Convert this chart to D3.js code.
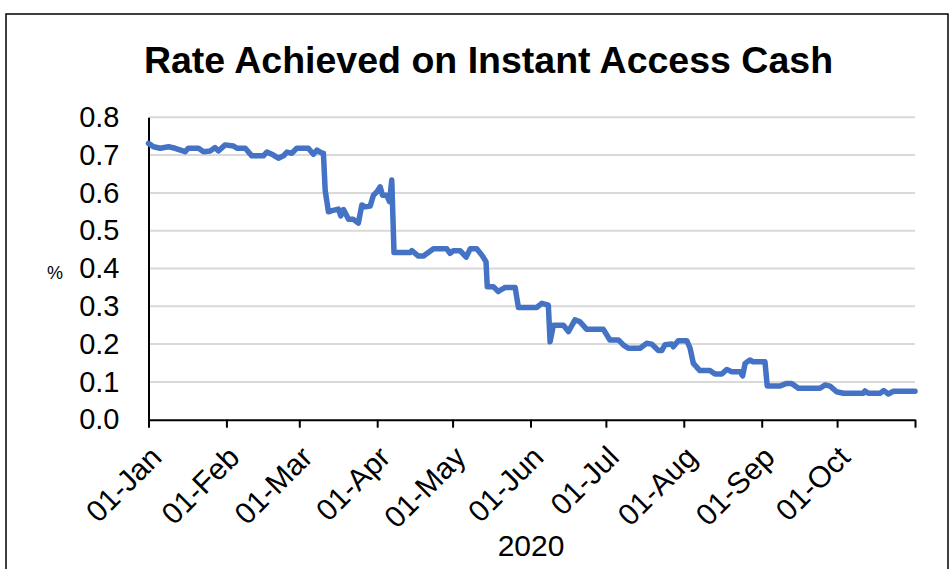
<!DOCTYPE html>
<html lang="en">

<head>
    <meta charset="UTF-8" />
    <title>Rate Achieved on Instant Access Cash</title>
    <script src="https://d3js.org/d3.v7.min.js"></script>
    <style>
        body { margin: 0; background: #fff; }
        text { font-family: "Liberation Sans", Arial, sans-serif; fill: #000; }
    </style>
</head>

<body>
    <div id="chart"></div>

    <script>
        var w = 952;
        var h = 569;

        // days after 01-Jan-2020
        var dayOffsets = [0, 2, 4.7, 8, 10.6, 14.6, 15.8, 19.9, 21.9, 24.5, 26.5, 27.8, 30.5, 33.8, 35.2, 38.5,
            41.1, 45.7, 47.1, 49.7, 51.7, 53.7, 55.1, 57, 59, 63.6, 65.6, 67, 69, 69.6, 70.3, 71.6,
            73, 75.6, 76.5, 77.6, 79.6, 81.5, 83.5, 84.9, 86.2, 88.2, 89.5, 90.9, 92.2, 93.1, 94.8, 95.9,
            96.8, 97.7, 104.1, 104.8, 107.4, 109.4, 113.4, 118.7, 120, 121.3, 124, 126.4, 128, 130.6,
            132.6, 134.3, 134.8, 137.2, 139.2, 140.6, 141.9, 145.9, 146.5, 147.2, 154.5, 156.5, 159.1,
            159.8, 161.1, 165.1, 167.1, 169.7, 171.7, 174.4, 181, 183.6, 187, 188.9, 190.9, 195.6,
            198.2, 200.2, 202.9, 204.2, 205.5, 208.2, 208.8, 210.8, 214.2, 215.5, 216.8, 219.4, 223.4,
            225.4, 228.1, 230.1, 232.1, 235.4, 236.4, 237.4, 239.3, 240.6, 245.3, 246.2, 251.3, 253.9,
            255.9, 258.6, 267.2, 269.2, 271.2, 273.8, 276.5, 284.4, 285.1, 286.4, 291.1, 292.6, 294.4,
            296.3, 305];
        var rates = [0.731, 0.722, 0.718, 0.722, 0.718, 0.709, 0.718, 0.718, 0.709, 0.711, 0.72, 0.711, 0.727, 0.724, 0.718, 0.718,
            0.698, 0.698, 0.708, 0.70, 0.692, 0.698, 0.708, 0.705, 0.718, 0.718, 0.702, 0.713, 0.705, 0.705, 0.607, 0.55,
            0.553, 0.557, 0.539, 0.556, 0.53, 0.53, 0.52, 0.568, 0.563, 0.565, 0.594, 0.603, 0.616, 0.594, 0.594, 0.577,
            0.634, 0.442, 0.442, 0.447, 0.433, 0.433, 0.452, 0.452, 0.44, 0.447, 0.447, 0.43, 0.452, 0.452,
            0.436, 0.418, 0.352, 0.352, 0.339, 0.345, 0.35, 0.35, 0.325, 0.297, 0.297, 0.308, 0.303,
            0.206, 0.25, 0.25, 0.233, 0.264, 0.259, 0.239, 0.239, 0.211, 0.211, 0.198, 0.189, 0.189,
            0.202, 0.2, 0.183, 0.183, 0.198, 0.2, 0.193, 0.209, 0.209, 0.189, 0.149, 0.13, 0.13,
            0.121, 0.121, 0.133, 0.127, 0.127, 0.116, 0.149, 0.158, 0.153, 0.153, 0.089, 0.089, 0.096,
            0.096, 0.083, 0.083, 0.092, 0.089, 0.074, 0.07, 0.07, 0.076, 0.07, 0.07, 0.077, 0.068,
            0.075, 0.075];
        var monthLabels = ["01-Jan", "01-Feb", "01-Mar", "01-Apr", "01-May", "01-Jun", "01-Jul", "01-Aug", "01-Sep", "01-Oct"];
        var yTicks = [0, 0.1, 0.2, 0.3, 0.4, 0.5, 0.6, 0.7, 0.8];

        var start = new Date(Date.UTC(2020, 0, 1));
        var end = new Date(Date.UTC(2020, 10, 1));
        var dataset = dayOffsets.map(function (d, i) {
            return { date: new Date(start.getTime() + d * 864e5), rate: rates[i] };
        });

        var svg = d3.select("#chart")
            .append("svg")
            .attr("width", w)
            .attr("height", h);

        // chart frame
        svg.append("rect")
            .attr("x", 6).attr("y", 14)
            .attr("width", 942).attr("height", 600)
            .attr("fill", "none")
            .attr("stroke", "#000")
            .attr("stroke-width", 1.5);

        var xScale = d3.scaleUtc()
            .domain([start, end])
            .range([148.5, 915]);

        var yScale = d3.scaleLinear()
            .domain([0, 0.8])
            .range([419.7, 117.3]);

        // gridlines
        svg.append("g")
            .selectAll("line")
            .data(yTicks.slice(1))
            .enter()
            .append("line")
            .attr("x1", xScale.range()[0])
            .attr("x2", xScale.range()[1])
            .attr("y1", function (d) { return yScale(d); })
            .attr("y2", function (d) { return yScale(d); })
            .attr("stroke", "#d9d9d9")
            .attr("stroke-width", 2);

        // y axis
        var yAxis = d3.axisLeft(yScale)
            .tickValues(yTicks)
            .tickFormat(d3.format(".1f"))
            .tickSize(0)
            .tickPadding(29);

        var gy = svg.append("g")
            .attr("transform", "translate(" + xScale.range()[0] + ",0)")
            .call(yAxis);
        gy.select(".domain").attr("stroke", "#000").attr("stroke-width", 2);
        gy.selectAll("text")
            .style("font-size", "29px")
            .style("font-family", "Liberation Sans, Arial, sans-serif");

        // x axis
        var monthTicks = d3.utcMonth.range(start, d3.utcDay.offset(end, 1));
        var xAxis = d3.axisBottom(xScale)
            .tickValues(monthTicks)
            .tickFormat(function (d, i) { return monthLabels[i] || ""; })
            .tickSizeInner(8)
            .tickSizeOuter(0);

        var gx = svg.append("g")
            .attr("transform", "translate(0," + yScale(0) + ")")
            .call(xAxis);
        gx.select(".domain").attr("stroke", "#000").attr("stroke-width", 2);
        gx.selectAll(".tick line").attr("stroke", "#000").attr("stroke-width", 2);
        gx.selectAll("text")
            .style("font-size", "30px")
            .style("font-family", "Liberation Sans, Arial, sans-serif")
            .attr("text-anchor", "end")
            .attr("y", 0)
            .attr("dy", "0.35em")
            .attr("transform", "translate(7,32) rotate(-45)");

        // rate line
        var line = d3.line()
            .x(function (d) { return xScale(d.date); })
            .y(function (d) { return yScale(d.rate); });

        svg.append("path")
            .datum(dataset)
            .attr("d", line)
            .attr("fill", "none")
            .attr("stroke", "#4472c4")
            .attr("stroke-width", 5.5)
            .attr("stroke-linejoin", "round")
            .attr("stroke-linecap", "round");

        // titles
        svg.append("text")
            .attr("x", 488.5)
            .attr("y", 73)
            .attr("text-anchor", "middle")
            .style("font-size", "37.5px")
            .style("font-weight", "bold")
            .text("Rate Achieved on Instant Access Cash");

        svg.append("text")
            .attr("x", 531)
            .attr("y", 556)
            .attr("text-anchor", "middle")
            .style("font-size", "30px")
            .text("2020");

        svg.append("text")
            .attr("x", 55)
            .attr("y", 279)
            .attr("text-anchor", "middle")
            .style("font-size", "18px")
            .text("%");
    </script>
</body>

</html>
